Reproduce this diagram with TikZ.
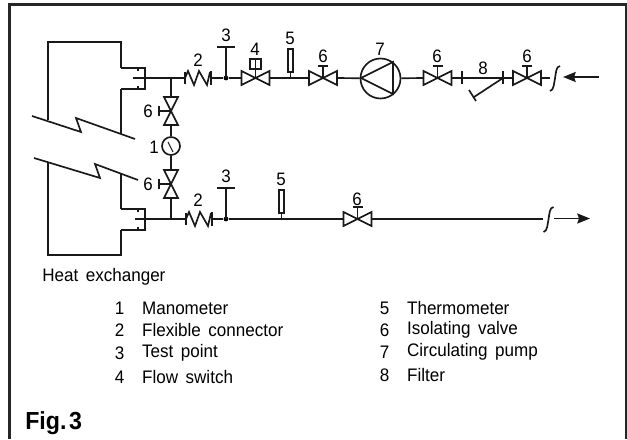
\documentclass[tikz,border=0pt]{standalone}
\usepackage{fontspec}
\setmainfont{Liberation Sans}[WordSpace=1.6, FakeStretch=0.94]
\usetikzlibrary{arrows.meta, positioning}

\begin{document}
\begin{tikzpicture}
    [
        x=0.75pt, y=-0.75pt,
        pipe/.style={draw=black!90, line width=1.25pt, line join=miter},
        frameline/.style={draw=black!85, line width=1.9pt},
        num/.style={inner sep=0pt, font=\fontsize{13.5}{15}\selectfont},
        legend/.style={anchor=west, inner sep=0pt, font=\fontsize{13.6}{15}\selectfont},
        flow/.style={pipe, -{Stealth[length=9.5pt, width=7.5pt, inset=1.2pt]}},
        valve/.pic={
            \coordinate (-w) at (-14,0);
            \coordinate (-e) at (14,0);
            \draw[pipe] (-14,-7) -- (14,7) -- (14,-7) -- (-14,7) -- cycle;
            \draw[pipe] (0,0) -- (0,-12) (-5,-12) -- (5,-12);
        },
        flexconn/.pic={
            \coordinate (-w) at (-13,0);
            \coordinate (-e) at (13,0);
            \draw[pipe] (-13,-6) -- (-13,6) (13,-7) -- (13,7);
            \draw[pipe] (-13,0) -- (-10,-7) -- (-4,7) -- (1,-7) -- (9,7) -- (12,-6);
        },
        testpoint/.pic={
            \node[circle, fill=black, inner sep=0pt, minimum size=3.6pt] (-dot) at (0,0) {};
            \draw[pipe] (0,0) -- (0,-31) (-9,-31) -- (9,-31);
        },
        thermo/.pic={
            \draw[pipe] (0,0) -- (0,-6);
            \draw[pipe, line width=0.9pt] (-2.5,-6) rectangle (2.5,-29);
        },
        pipebreak/.pic={
            \draw[pipe] (-5,12.5) .. controls (-1,12) and (-1,4) .. (0,0) .. controls (1,-6) and (1,-12) .. (5,-12.5);
        },
        flange/.pic={
            \draw[pipe] (-24,-10.5) -- (0,-10.5) -- (0,10.5) -- (-24,10.5);
            \draw[pipe, line width=0.9pt] (-7,-10.5) -- (-7,-7.5) (-7,10.5) -- (-7,7.5);
        },
    ]
    \useasboundingbox (0,0) rectangle (627,439);
    \draw[frameline] (9.5,439) -- (9.5,4.5) -- (626,4.5) -- (626,439);

    % heat exchanger
    \draw[pipe] (48,120) -- (48,42) -- (121,42) -- (121,68);
    \draw[pipe] (121,89) -- (121,134);
    \draw[pipe] (48,162) -- (48,255) -- (121,255) -- (121,230);
    \draw[pipe] (121,209) -- (121,174);
    \draw[pipe] (32,116) -- (81,132) -- (76,118) -- (135,139);
    \draw[pipe] (34,158) -- (100,178) -- (95,164) -- (138,180);
    \pic (flangeup) at (145,78.5) {flange};
    \pic (flangelow) at (145,219.5) {flange};

    % supply line
    \coordinate (pipeup) at (133,78);
    \coordinate (junctup) at (171,78);
    \pic (flexup) at (198,78) {flexconn};
    \pic (testup) at (226,78) {testpoint};
    \pic (switch) at (255.5,78) {valve};
    \draw[pipe, fill=white] (250,59) rectangle (261,69);
    \draw[pipe] (255.5,78) -- (255.5,59);
    \pic (thermoup) at (290.5,78) {thermo};
    \pic (valveA) at (323,78) {valve};
    \node[circle, draw=black!90, line width=1.25pt, inner sep=0pt, minimum size=30pt] (pump) at (380.5,78.5) {};
    \coordinate (pumptip) at (361,78);
    \draw[pipe] (pumptip) -- (393,62) -- (393,94) -- cycle;
    \pic (valveB) at (437.5,78) {valve};
    \coordinate (filterin) at (462,78);
    \coordinate (filterout) at (503,78);
    \pic (valveC) at (527,78) {valve};
    \coordinate (endup) at (550,78);
    \pic (breakup) at (555,78.5) {pipebreak};
    \coordinate (flowinstart) at (599,77);
    \coordinate (flowinend) at (563,77);

    \draw[pipe] (pipeup) -- (flexup-w);
    \draw[pipe] (flexup-e) -- (testup-dot) -- (switch-w);
    \draw[pipe] (switch-e) -- (valveA-w);
    \draw[pipe] (valveA-e) -- (pump);
    \draw[pipe] (pump) -- (valveB-w);
    \draw[pipe] (valveB-e) -- (filterin) -- (filterout) -- (valveC-w);
    \draw[pipe] (valveC-e) -- (endup);
    \draw[pipe] (462,71) -- (462,84) (503,71) -- (503,84);
    \coordinate (strainer) at (474,97);
    \draw[pipe] (filterout) -- (strainer) (469,90) -- (476,101);
    \draw[flow] (flowinstart) -- (flowinend);

    % return line
    \coordinate (pipelow) at (135,219);
    \coordinate (junctlow) at (171,219);
    \pic (flexlow) at (199,219) {flexconn};
    \pic (testlow) at (226,219) {testpoint};
    \pic (thermolow) at (281.5,219) {thermo};
    \pic (valveD) at (357.5,219) {valve};
    \coordinate (endlow) at (543,219);
    \pic (breaklow) at (548.5,219.5) {pipebreak};
    \coordinate (flowoutstart) at (554,218.5);
    \coordinate (flowoutend) at (590,218.5);

    \draw[pipe] (pipelow) -- (flexlow-w);
    \draw[pipe] (flexlow-e) -- (testlow-dot) -- (valveD-w);
    \draw[pipe] (valveD-e) -- (endlow);
    \draw[flow] (flowoutstart) -- (flowoutend);

    % bypass with manometer
    \pic[rotate=90] (valveE) at (171,111) {valve};
    \node[circle, draw=black!90, line width=1.25pt, inner sep=0pt, minimum size=13.5pt] (gauge) at (171,146) {};
    \draw[pipe, line width=0.8pt] (168,142) -- (173,152);
    \pic[rotate=90] (valveF) at (171,184) {valve};
    \draw[pipe] (junctup) -- (valveE-e);
    \draw[pipe] (valveE-w) -- (gauge);
    \draw[pipe] (gauge) -- (valveF-e);
    \draw[pipe] (valveF-w) -- (junctlow);

    % numbers
    \node[num] (labelone) at (154,147) {1};
    \node[num] (labelflexup) at (198,60) {2};
    \node[num] (labelflexlow) at (198,200) {2};
    \node[num] (labeltestup) at (226,35) {3};
    \node[num] (labeltestlow) at (226,176) {3};
    \node[num] (labelswitch) at (255,49) {4};
    \node[num] (labelthermoup) at (290,38) {5};
    \node[num] (labelthermolow) at (281,179) {5};
    \node[num] (labelvalveA) at (323,56) {6};
    \node[num] (labelpump) at (380,49) {7};
    \node[num] (labelvalveB) at (437,56) {6};
    \node[num] (labelfilter) at (483,68) {8};
    \node[num] (labelvalveC) at (527,56) {6};
    \node[num] (labelvalveD) at (357,199) {6};
    \node[num] (labelvalveE) at (148,111) {6};
    \node[num] (labelvalveF) at (148,184) {6};

    % legend
    \node[legend] (hxname) at (42,277) {Heat exchanger};
    \node[legend] (keyone) at (114.5,308) {1};
    \node[legend, right=13pt of keyone] (txtone) {Manometer};
    \node[legend] (keytwo) at (114.5,330) {2};
    \node[legend, right=13pt of keytwo] (txttwo) {Flexible connector};
    \node[legend] (keythree) at (114.5,353) {3};
    \node[legend, right=13pt of keythree] (txtthree) {Test point};
    \node[legend] (keyfour) at (114.5,377) {4};
    \node[legend, right=13pt of keyfour] (txtfour) {Flow switch};
    \node[legend] (keyfive) at (379.5,308) {5};
    \node[legend, right=13pt of keyfive] (txtfive) {Thermometer};
    \node[legend] (keysix) at (379.5,330) {6};
    \node[legend, right=13pt of keysix] (txtsix) {Isolating valve};
    \node[legend] (keyseven) at (379.5,352) {7};
    \node[legend, right=13pt of keyseven] (txtseven) {Circulating pump};
    \node[legend] (keyeight) at (379.5,375) {8};
    \node[legend, right=13pt of keyeight] (txteight) {Filter};

    \node[anchor=west, inner sep=0pt, font=\bfseries\fontsize{18.5}{20}\selectfont] (figname) at (25,423) {Fig.\kern2pt 3};
\end{tikzpicture}
\end{document}
